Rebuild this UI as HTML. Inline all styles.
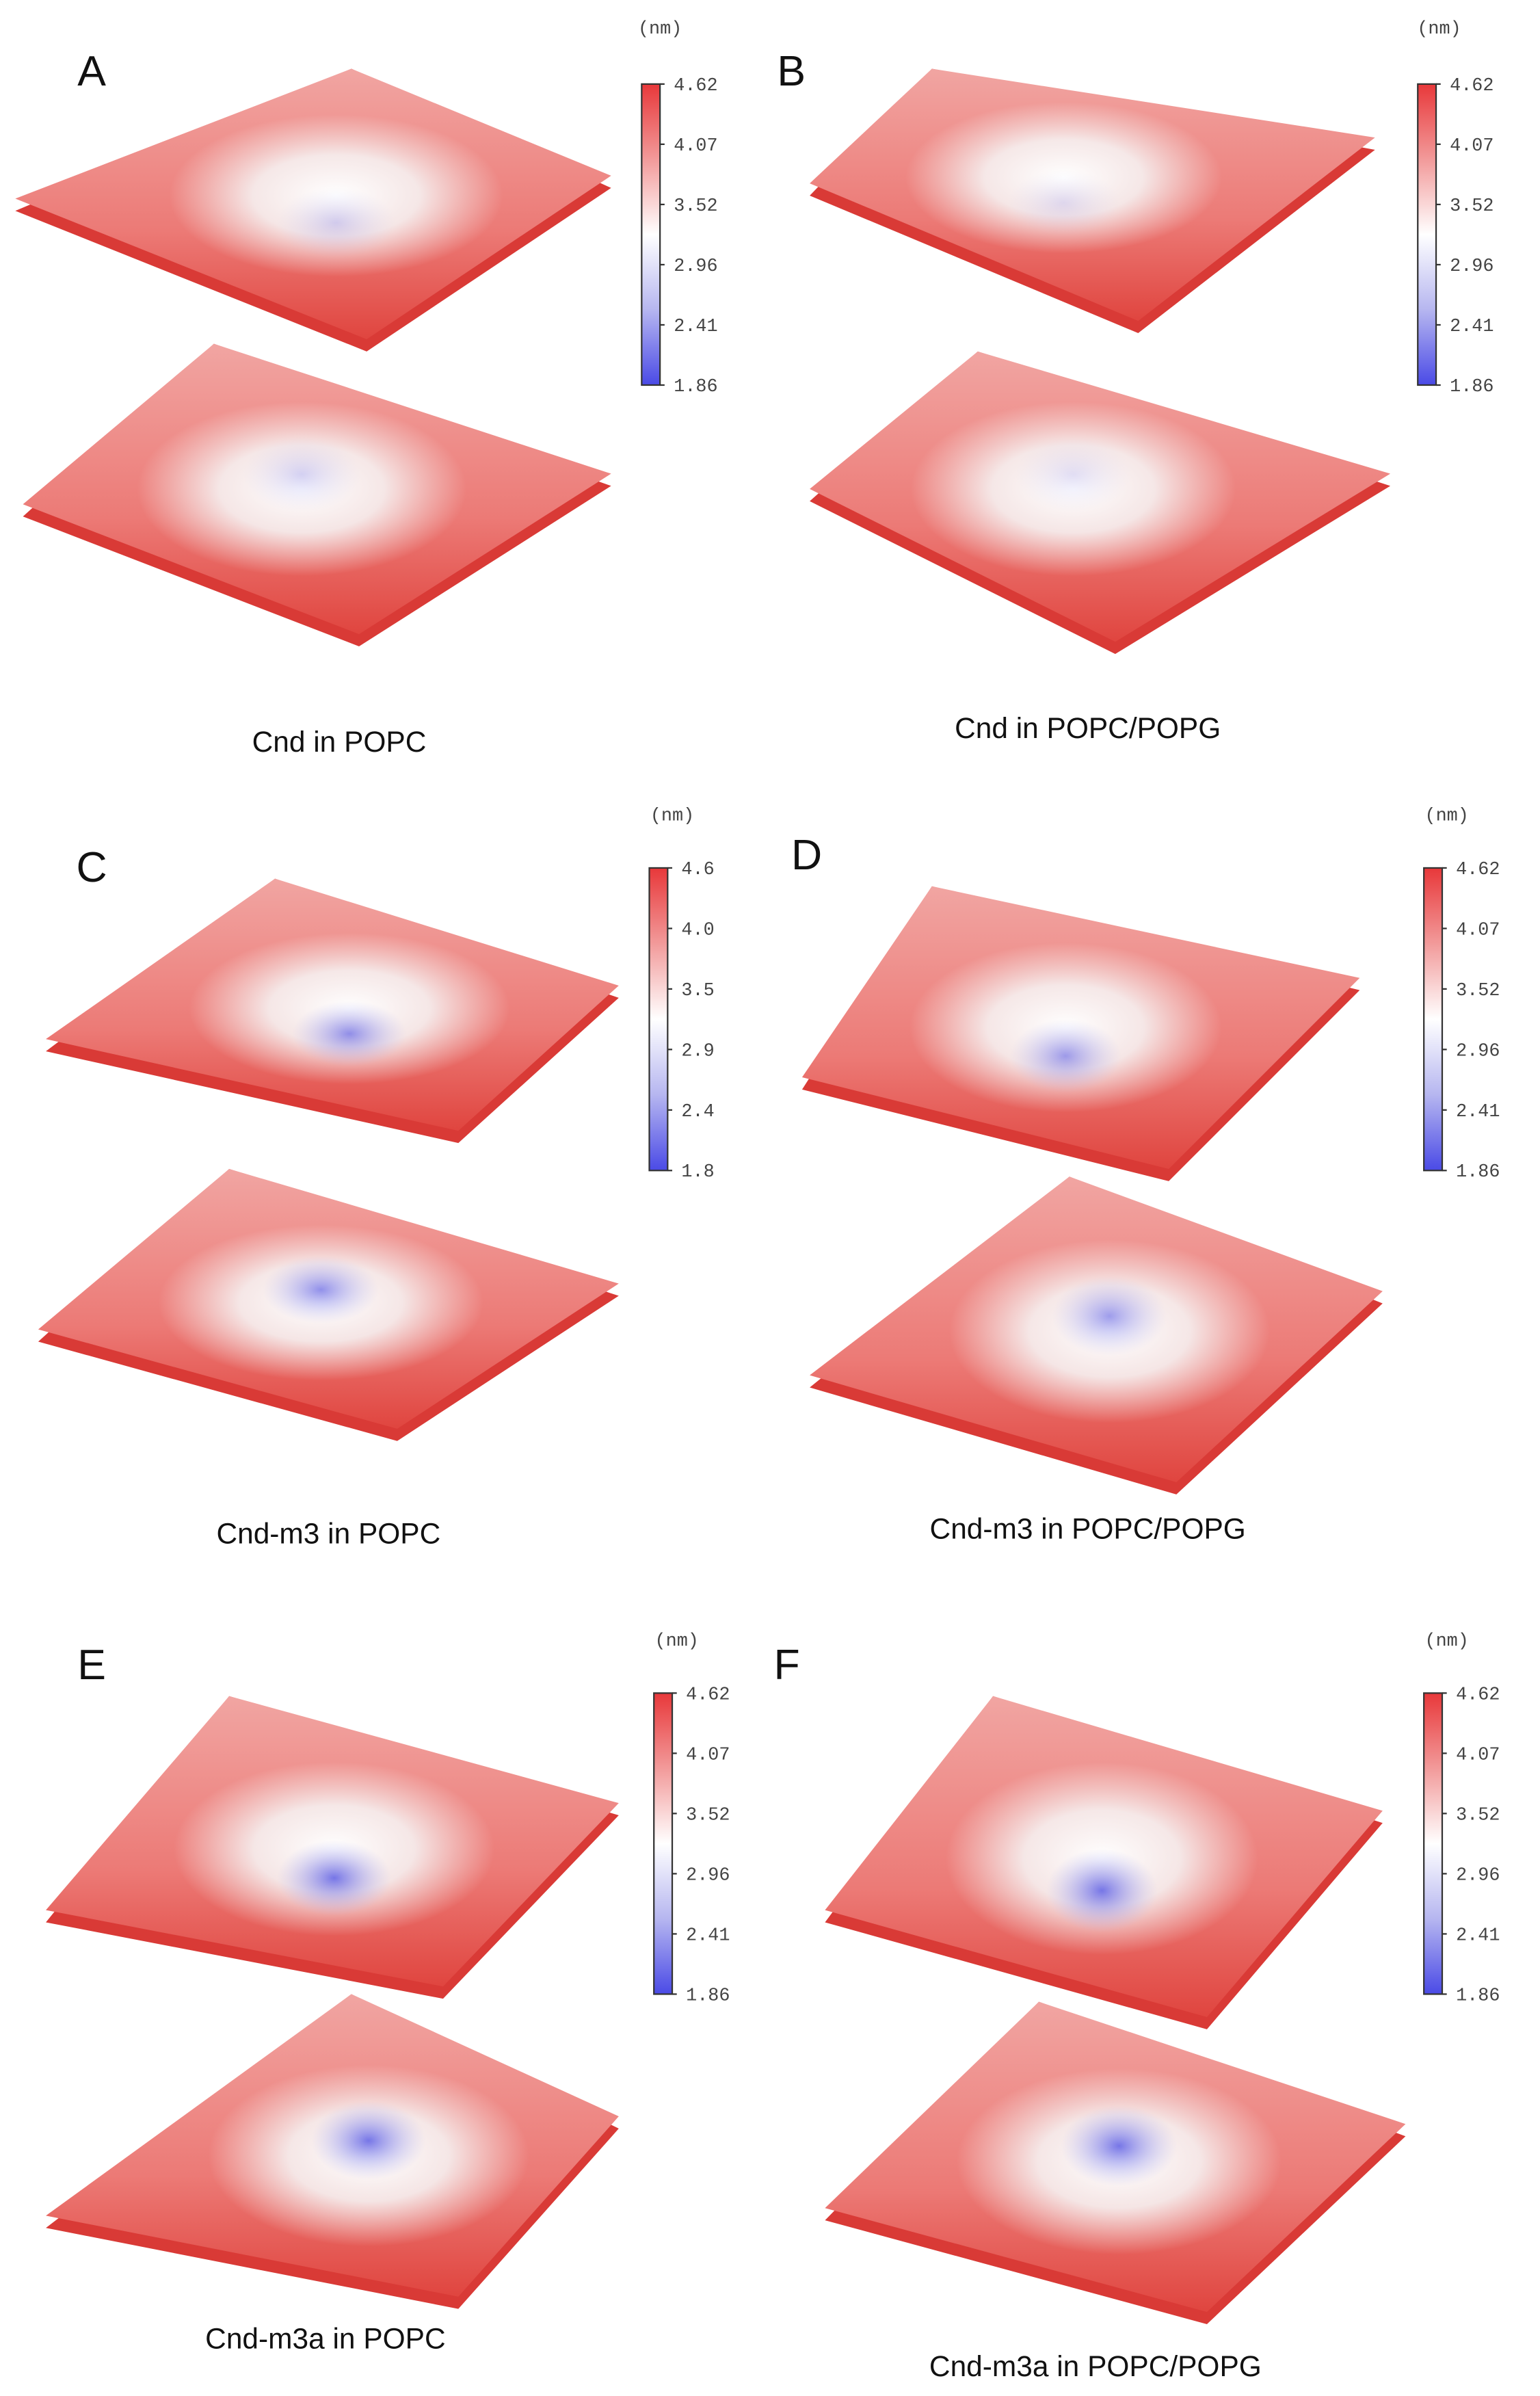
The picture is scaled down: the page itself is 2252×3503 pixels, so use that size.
<!DOCTYPE html>
<html><head><meta charset="utf-8"><style>
html,body{margin:0;padding:0;background:#fff;}
svg{display:block;}
text{font-family:"Liberation Sans",sans-serif;}
.mono{font-family:"Liberation Mono",monospace;}
</style></head><body>
<svg id="fig" width="2252" height="3503" viewBox="0 0 1008 1568" xmlns="http://www.w3.org/2000/svg">
<defs>
<linearGradient id="cbar" x1="0" y1="0" x2="0" y2="1">
<stop offset="0" stop-color="#e8383a"/><stop offset="0.25" stop-color="#f29a9a"/><stop offset="0.5" stop-color="#ffffff"/><stop offset="0.75" stop-color="#b6b6f0"/><stop offset="1" stop-color="#4a4ae6"/></linearGradient>
<linearGradient id="edge" x1="0" y1="0" x2="0" y2="1">
<stop offset="0" stop-color="#f1a5a2"/><stop offset="0.6" stop-color="#ec7a76"/><stop offset="1" stop-color="#e0453f"/></linearGradient>
<radialGradient id="center" cx="0.5" cy="0.5" r="0.5">
<stop offset="0" stop-color="#ffffff" stop-opacity="1"/><stop offset="0.5" stop-color="#f6f2f2" stop-opacity="0.9"/><stop offset="1" stop-color="#f6f2f2" stop-opacity="0"/></radialGradient>
<radialGradient id="blue" cx="0.5" cy="0.5" r="0.5">
<stop offset="0" stop-color="#6f6fe6" stop-opacity="0.95"/><stop offset="1" stop-color="#b9b9f0" stop-opacity="0"/></radialGradient>
</defs>
<g id="panels"></g>
</svg>
<script>
const tickLabels = ["4.62","4.07","3.52","2.96","2.41","1.86"];
const tickLabelsTrunc = ["4.6","4.0","3.5","2.9","2.4","1.8"];
const panelLetters = ["A","B","C","D","E","F"];
const captions = ["Cnd in POPC","Cnd in POPC/POPG","Cnd-m3 in POPC","Cnd-m3 in POPC/POPG","Cnd-m3a  in POPC","Cnd-m3a in POPC/POPG"];
const blueStrength = [0.3,0.2,0.8,0.7,1,1];

const layout = [
 {lx:60,ly:56,cb:[420,55,252],nm:[432,22],cap:[222,492],top:[[10,130],[230,45],[400,115],[240,222]],bot:[[15,330],[140,225],[400,310],[235,415]]},
 {lx:518,ly:56,cb:[928,55,252],nm:[942,22],cap:[712,483],top:[[530,120],[610,45],[900,90],[745,210]],bot:[[530,320],[640,230],[910,310],[730,420]]},
 {lx:60,ly:577,cb:[425,568,766],nm:[440,537],cap:[215,1010],top:[[30,680],[180,575],[405,645],[300,740]],bot:[[25,870],[150,765],[405,840],[260,935]]},
 {lx:528,ly:569,cb:[932,568,766],nm:[947,537],cap:[712,1007],top:[[525,705],[610,580],[890,640],[765,765]],bot:[[530,900],[700,770],[905,845],[770,970]]},
 {lx:60,ly:1099,cb:[428,1108,1305],nm:[443,1077],cap:[213,1537],top:[[30,1250],[150,1110],[405,1180],[290,1300]],bot:[[30,1450],[230,1305],[405,1385],[300,1503]]},
 {lx:515,ly:1099,cb:[932,1108,1305],nm:[947,1077],cap:[717,1555],top:[[540,1250],[650,1110],[905,1185],[790,1320]],bot:[[540,1445],[680,1310],[920,1390],[790,1513]]}
];
const NS="http://www.w3.org/2000/svg";
const root=document.getElementById('panels');
function mk(tag,attrs,parent){const e=document.createElementNS(NS,tag);for(const k in attrs)e.setAttribute(k,attrs[k]);parent.appendChild(e);return e;}
function yScale(i,y0,y1){return y0+(y1-y0)*i/(tickLabels.length-1);}

layout.forEach((L,p)=>{
 const g=mk('g',{},root);
 
 
 const lt=mk('text',{x:L.lx,y:L.ly,'font-size':28,fill:'#111','text-anchor':'middle'},g);
 lt.textContent=panelLetters[p];
 
 
 ['top','bot'].forEach((s,si)=>{
  const q=L[s];
  const sg=mk('g',{},g);
  
  
  const pts=q.map(a=>a.join(',')).join(' ');
  const thick=q.map((a,i)=>a[0]+','+(a[1]+(i==0||i==3||i==2?8:0))).join(' ');
  mk('polygon',{points:thick,fill:'#d93a36'},sg);
  mk('polygon',{points:pts,fill:'url(#edge)'},sg);
  const cx=(q[0][0]+q[1][0]+q[2][0]+q[3][0])/4, cy=(q[0][1]+q[1][1]+q[2][1]+q[3][1])/4;
  const w=(q[2][0]-q[0][0]), h=(q[3][1]-q[1][1]);
  mk('ellipse',{cx:cx,cy:cy,rx:w*0.28,ry:h*0.3,fill:'url(#center)'},sg);
  mk('ellipse',{cx:cx,cy:cy-(si?h*0.05:-h*0.1),rx:w*0.1,ry:h*0.13,fill:'url(#blue)',opacity:blueStrength[p]},sg);
 });
 const [cx,cy0,cy1]=L.cb;
 const cb=mk('rect',{x:cx,y:cy0,width:12,height:cy1-cy0,fill:'url(#cbar)',stroke:'#333','stroke-width':1},g);
 
 
 const labels=(p==2)?tickLabelsTrunc:tickLabels;
 labels.forEach((t,i)=>{
  const y=yScale(i,cy0,cy1);
  mk('line',{x1:cx+12,x2:cx+15,y1:y,y2:y,stroke:'#333','stroke-width':1},g);
  const tx=mk('text',{x:cx+21,y:y+4,'font-size':12,fill:'#444',class:'mono'},g);
  tx.textContent=t;
  
  
 });
 const nm=mk('text',{x:L.nm[0],y:L.nm[1],'font-size':12,fill:'#444',class:'mono','text-anchor':'middle'},g);
 nm.textContent='(nm)';
 
 
 const cp=mk('text',{x:L.cap[0],y:L.cap[1],'font-size':19,fill:'#111','text-anchor':'middle'},g);
 cp.textContent=captions[p];
 
 
});
</script>
</body></html>
